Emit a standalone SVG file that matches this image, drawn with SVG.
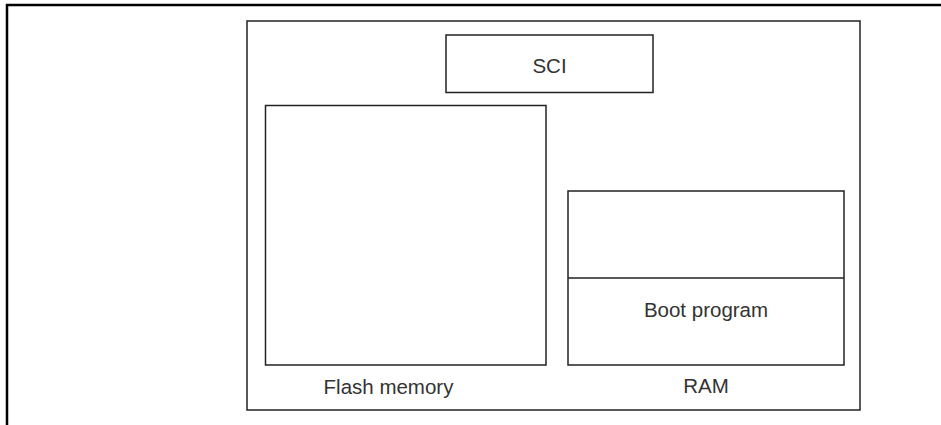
<svg xmlns="http://www.w3.org/2000/svg" width="941" height="425" viewBox="0 0 941 425">
  <style>
    .box { fill: #ffffff; stroke: #222222; stroke-width: 1.5; }
    .line { stroke: #222222; stroke-width: 1.5; fill: none; }
    .frame { stroke: #000000; stroke-width: 2.5; fill: none; }
    .label { font-family: "Liberation Sans", Arial, sans-serif; font-size: 20.5px; fill: #333333; text-anchor: middle; }
  </style>
  <rect width="941" height="425" fill="#ffffff"/>
  <g id="frame">
    <path class="frame" d="M7,425 V5 H941"/>
  </g>
  <g id="chip">
    <rect class="box" x="247" y="21" width="613" height="389"/>
  </g>
  <g id="sci">
    <rect class="box" x="446" y="35" width="207" height="57.5"/>
    <text class="label" x="549.5" y="73">SCI</text>
  </g>
  <g id="flash">
    <rect class="box" x="265.5" y="105.5" width="280.5" height="259.5"/>
    <text class="label" x="388.5" y="394">Flash memory</text>
  </g>
  <g id="ram">
    <rect class="box" x="568" y="191" width="276" height="174"/>
    <text class="label" x="706" y="393">RAM</text>
  </g>
  <g id="boot">
    <path class="line" d="M568,278 H844"/>
    <text class="label" x="706" y="317">Boot program</text>
  </g>
  <g id="connectors"></g>
</svg>
